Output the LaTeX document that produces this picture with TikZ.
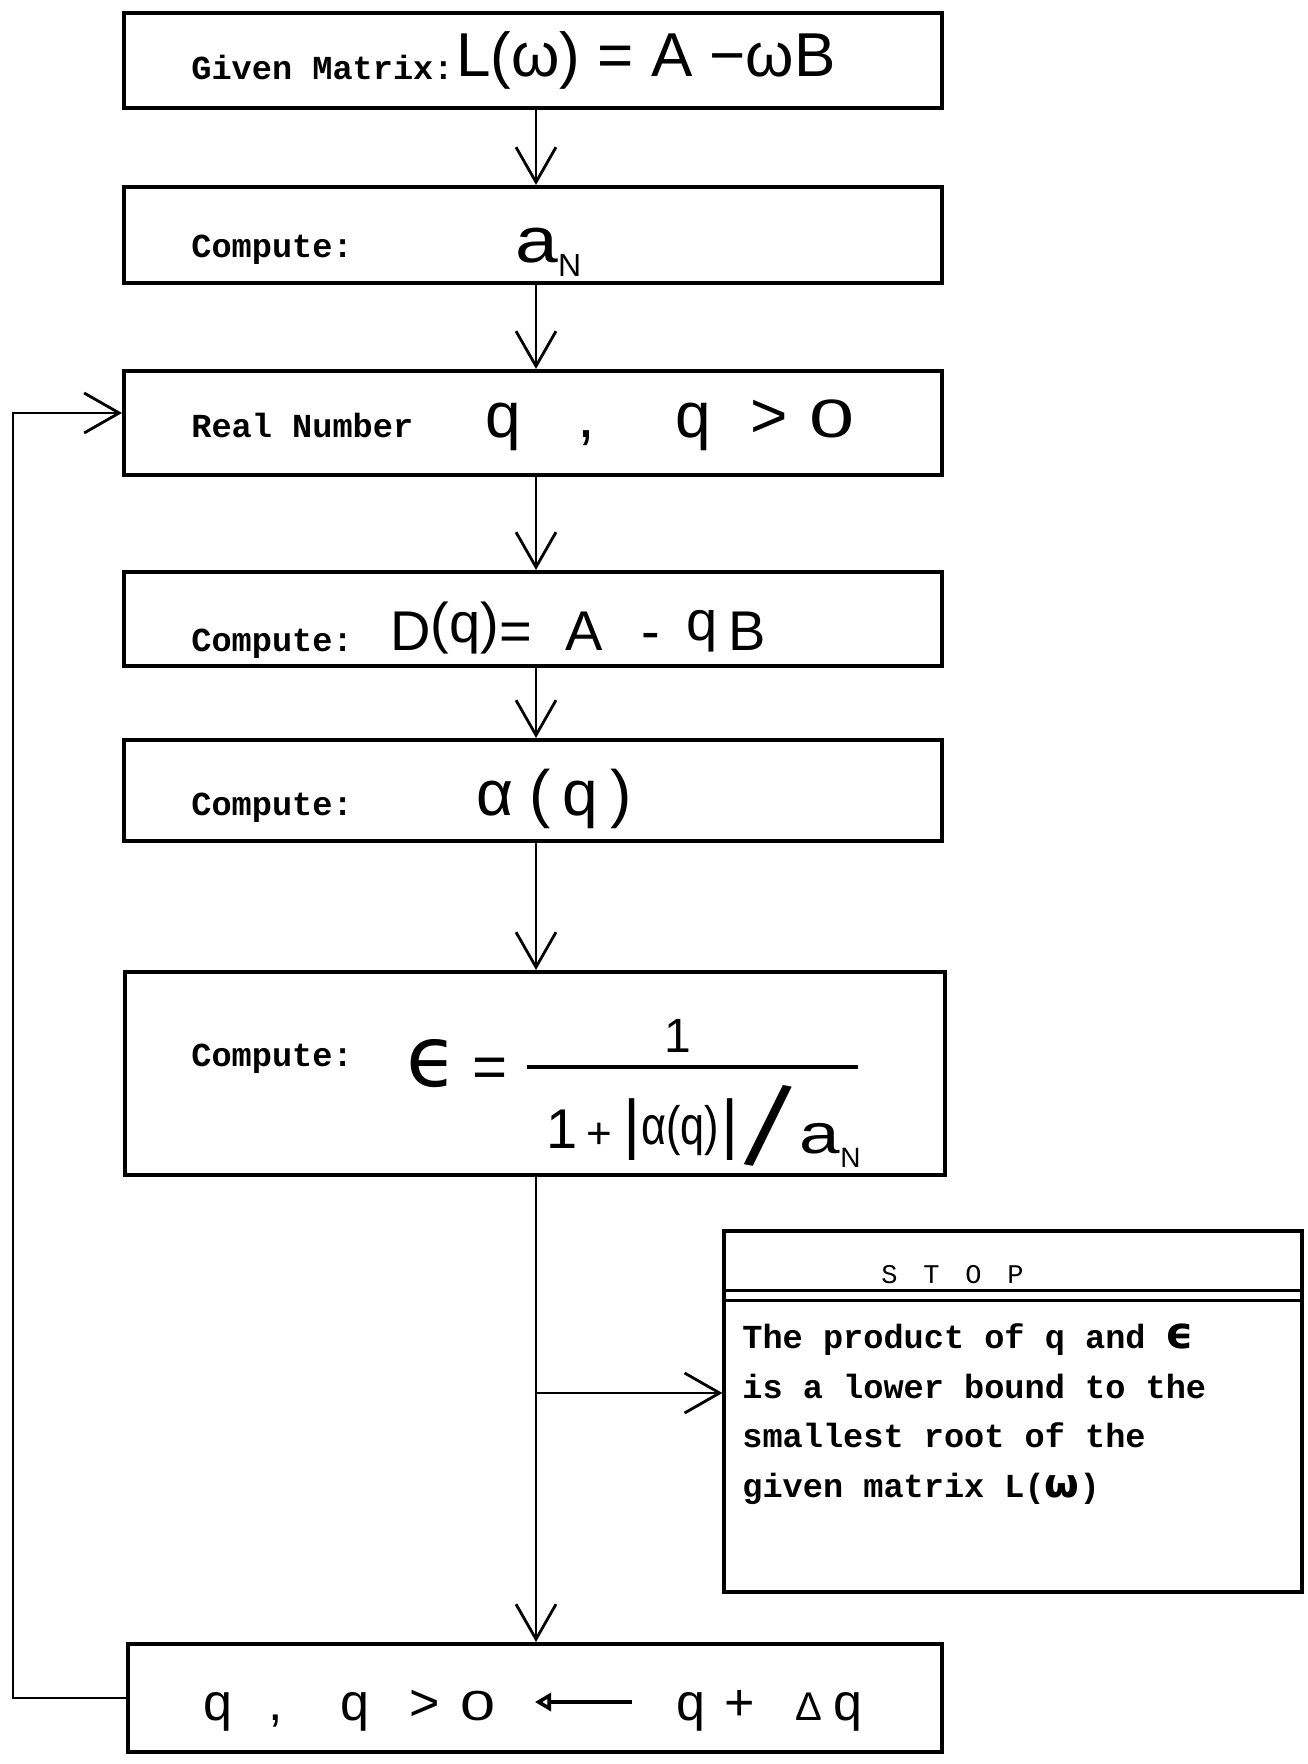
\documentclass[tikz,border=0pt]{standalone}
\usepackage{fontspec}
\setmainfont{Liberation Sans}
\newfontfamily\tw{Liberation Mono}
\newfontfamily\djv{DejaVu Sans}
\usetikzlibrary{arrows.meta,calc}
\newcommand\fsz[1]{\fontsize{#1}{#1}\selectfont}
\begin{document}
\begin{tikzpicture}[x=0.5pt,y=-0.5pt,
  box/.style={draw, line width=2pt, inner sep=0pt},
  conn/.style={line width=1.4pt, -{Straight Barb[length=17.5pt,width=20pt]}},
  lbl/.style={anchor=base west, inner sep=0pt, font=\tw\bfseries\fsz{16.8}},
  hw/.style={anchor=base, inner sep=0pt, font=\fsz{31}},
]
\useasboundingbox (0,0) rectangle (1307,1764);
\fill[white] (0,0) rectangle (1307,1764);

% boxes
\node[box, minimum width=409pt, minimum height=47.5pt] (b1) at (533,60.5) {};
\node[box, minimum width=409pt, minimum height=48pt] (b2) at (533,235) {};
\node[box, minimum width=409pt, minimum height=52pt] (b3) at (533,423) {};
\node[box, minimum width=409pt, minimum height=47pt] (b4) at (533,619) {};
\node[box, minimum width=409pt, minimum height=50.5pt] (b5) at (533,790.5) {};
\node[box, minimum width=410pt, minimum height=101.5pt] (b6) at (535,1073.5) {};
\node[box, minimum width=407pt, minimum height=54pt] (b7) at (535,1698) {};
\node[box, line width=1.6pt, minimum width=289pt, minimum height=180.5pt] (stop) at (1013,1411.5) {};

% connectors
\coordinate (S) at (536,0);
\draw[conn] (b1.south -| S) -- (b2.north -| S);
\draw[conn] (b2.south -| S) -- (b3.north -| S);
\draw[conn] (b3.south -| S) -- (b4.north -| S);
\draw[conn] (b4.south -| S) -- (b5.north -| S);
\draw[conn] (b5.south -| S) -- (b6.north -| S);
\draw[conn] (b6.south -| S) -- (b7.north -| S);
\coordinate (br) at (536,1393);
\draw[conn] (br) -- (br -| stop.west);
\coordinate (L) at (13,0);
\coordinate (lt) at (0,413);
\draw[conn] (b7.west) -- (b7.west -| L) -- (L |- lt) -- (b3.west |- lt);

% box 1
\node[lbl] (t1) at (191,80) {Given Matrix:};
\node[hw] (m1) at (646,77) {L(ω) = A −ωB};
% box 2
\node[lbl] (t2) at (191,258) {Compute:};
\node[hw, anchor=base west, font=\fsz{32}] (m2) at (515,263) {\scalebox{1.2}[1]{a}\raisebox{-7pt}{\fsz{16}N}};
% box 3
\node[lbl] (t3) at (191,438) {Real Number};
\node[hw, anchor=base west, font=\fsz{32}] (m3) at (485,438) {q\hspace{28.5pt},\hspace{40pt}q\hspace{19.5pt}>\hspace{11pt}\scalebox{1.5}[1]{\fsz{27}0}};
% box 4
\node[lbl] (t4) at (191,651) {Compute:};
\node[hw, anchor=base west, font=\fsz{28}] (m4) at (390,650) {D\raisebox{4pt}{(q)}=\hspace{17pt}A\hspace{19pt}-\hspace{13.5pt}\raisebox{5pt}{q}\hspace{5pt}B};
% box 5
\node[lbl] (t5) at (191,815) {Compute:};
\node[hw, font=\fsz{32}] (m5) at (554,815) {α\hspace{8pt}(\hspace{6pt}q\hspace{6pt})};
% box 6
\node[lbl] (t6) at (191,1066) {Compute:};
\node[inner sep=0pt, font=\djv\fsz{42}] (eps) at (432,1064) {ϵ};
\node[inner sep=0pt, font=\fsz{30}] (eq) at (490,1073) {=};
\coordinate (f1) at (527,1067);
\coordinate (f2) at (858,1067);
\draw[line width=1.6pt] (f1) -- (f2);
\node[hw, font=\fsz{24}] (num) at (678,1052) {1};
\node[hw, anchor=base west] (den) at (552,1148) {\makebox[10pt]{\fsz{28}1}\makebox[27pt]{\fsz{22}+}\makebox[6pt]{\raisebox{1pt}{\fsz{33}|}}\makebox[42pt]{\raisebox{2pt}{\scalebox{0.8}[1]{\fsz{27}α(q)}}}\makebox[8pt]{\raisebox{1pt}{\fsz{33}|}}\makebox[30pt]{\raisebox{-9.5pt}{\rotatebox[origin=c]{-11}{\fsz{58}/}}}\makebox[21pt]{\raisebox{-2.5pt}{\scalebox{1.3}[1]{\fsz{28}a}}}\raisebox{-9.5pt}{\fsz{14}N}};
% box 7
\node[hw, anchor=base west, font=\fsz{26}] (m7a) at (203,1720) {q\hspace{18pt},\hspace{29pt}q\hspace{20pt}>\hspace{10pt}\scalebox{1.5}[1]{\fsz{21}0}};
\node[hw, anchor=base west, font=\fsz{26}] (m7b) at (676,1720) {q\hspace{9.5pt}+\hspace{20.5pt}{\fsz{20}Δ}\hspace{5.5pt}q};
\coordinate (a7s) at (632,1702);
\coordinate (a7e) at (535,1702);
\draw[line width=1.8pt, -{Triangle[open,length=8pt,width=9pt]}] (a7s) -- (a7e);
% stop box
\draw[line width=1.4pt] ([yshift=-30.5pt]stop.north west) -- ([yshift=-30.5pt]stop.north east);
\draw[line width=1.4pt] ([yshift=-35.5pt]stop.north west) -- ([yshift=-35.5pt]stop.north east);
\node[anchor=base west, inner sep=0pt, font=\tw\fsz{13.5}] (st) at (881,1283) {S\hspace{12.9pt}T\hspace{12.9pt}O\hspace{12.9pt}P};
\node[lbl] (s1) at (742,1348) {The product of q and {\djv\fsz{22}ϵ}};
\node[lbl] (s2) at (742,1398) {is a lower bound to the};
\node[lbl] (s3) at (742,1447) {smallest root of the};
\node[lbl] (s4) at (742,1497) {given matrix L({\djv\fsz{20}ω})};
\end{tikzpicture}
\end{document}
